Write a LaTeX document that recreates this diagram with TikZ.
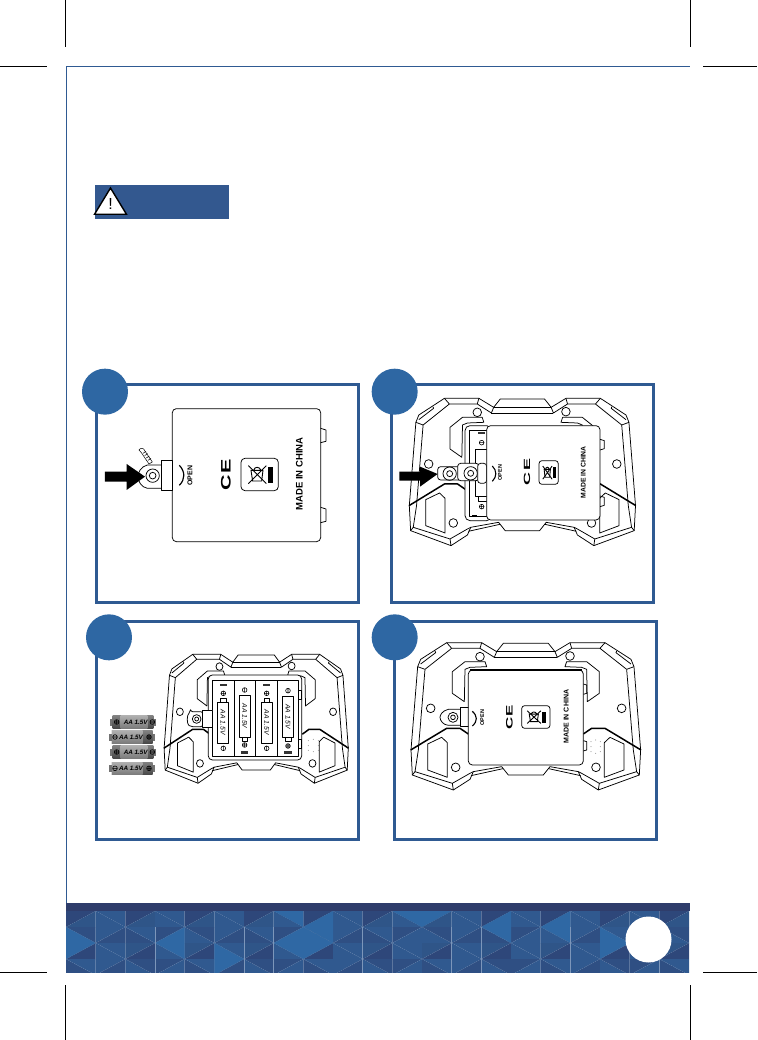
\documentclass[tikz,border=0pt]{standalone}
\usepackage{fontspec}
\setmainfont{Liberation Sans}
\definecolor{frameblue}{HTML}{2F5A92}
\definecolor{discblue}{HTML}{2E67A3}
\definecolor{banner}{HTML}{33588F}
\definecolor{strip}{HTML}{2F3D6B}
\definecolor{mos0}{HTML}{2E477A}
\definecolor{mos1}{HTML}{2F4F83}
\definecolor{mos2}{HTML}{2F5588}
\definecolor{mos3}{HTML}{30598F}
\definecolor{mosb}{HTML}{2F68A4}
\definecolor{mosl}{HTML}{6583AE}
\tikzset{
  panelframe/.style={draw=frameblue,line width=3pt},
  disc/.style={fill=discblue},
  crop/.style={draw=black,line width=.6pt},
  ink/.style={draw=black,line width=.75pt,line join=round},
  heavy/.style={draw=black,line width=1.5pt,line join=round},
  lab/.style={font=\bfseries\fontsize{#1}{#1}\selectfont,rotate=90,inner sep=0pt},
  batlab/.style={font=\bfseries\itshape\fontsize{6.3}{7}\selectfont,inner sep=0pt},
  slotlab/.style={font=\itshape\fontsize{6.8}{7}\selectfont,rotate=-90,inner sep=0pt},
  zoomgrid/.style={x=0.3333pt,y=-0.3333pt}
}
\newcommand{\halfpad}{%
  \draw[ink] (158,170)--(180,178)--(260,115)--(245,98) (260,115)--(345,115)--(350,98) (345,115)--(388,142)--(395,125);
  \draw[ink] (388,142)--(482.5,142) (395,125)--(482.5,125);
  \draw[ink] (167,162)--(212,128)--(210,123);
  \draw[ink] (180,178)--(160,420)--(150,485)--(142,495) (150,485)--(262,520)--(265,540) (262,520)--(315,490)--(325,485);
  \draw[ink] (318,497)--(414,476);
  \draw[ink] (298,275)--(262,250)--(262,185)--(300,155)--(360,155)--(365,170)--(315,172)--(300,178)--cycle;
  \draw[ink] (188,402)--(230,382)--(247,398)--(247,502)--(188,480)--cycle;
  \draw[heavy] (137,420)--(245,355)--(285,355)--(310,372);
}
\newcommand{\gamepad}{%
  \path[ink,fill=white] (138,420)--(158,170)--(167,148)--(245,98)--(350,98)--(395,125)--(415,100)--(550,100)--(570,125)--(615,98)--(720,98)--(798,148)--(807,170)--(827,420)--(823,495)--(700,540)--(650,508)--(640,485)--(555,470)--(535,495)--(430,495)--(410,470)--(325,485)--(315,508)--(265,540)--(142,495)--cycle;
  \halfpad
  \begin{scope}[shift={(965,0)},xscale=-1]
    \halfpad
  \end{scope}
  \foreach \hx/\hy in {197/295,770/295,345/140,615/138,272/472,693/472}
    \draw[ink,fill=white] (\hx,\hy) circle[radius=13];
}
\newcommand{\speaker}{%
  \foreach \hx/\hy in {678/395,692/390,706/395,678/410,706/410,678/425,692/430,706/425}
    \fill[black!55] (\hx,\hy) circle[radius=1.4];
}
\newcommand{\recyc}[5]{%
  \begin{scope}[shift={(#1,#2)},xscale=#3/112,yscale=#4/97]
    \draw[ink,rounded corners=#5pt,fill=white] (0,0) rectangle (112,97);
    \fill[black] (80,25) rectangle (97,73);
    \draw[draw=black,line width=.9pt] (30,36)--(66,36)--(62,68)--(35,68)--cycle (38,36)..controls (40,24) and (56,24)..(60,36);
    \draw[draw=black,line width=.9pt] (22,22)--(76,76) (22,76)--(76,22);
  \end{scope}}
\newcommand{\polplus}[2]{\draw[ink,line width=.6pt] (#1,#2) circle[radius=7] (#1-7,#2)--(#1+7,#2) (#1,#2-7)--(#1,#2+7);}
\newcommand{\polminus}[2]{\draw[ink,line width=.6pt] (#1,#2) circle[radius=7] (#1,#2-7)--(#1,#2+7);}
\newcommand{\hpolplus}[2]{\draw[ink,line width=.6pt] (#1,#2) circle[radius=7] (#1-7,#2)--(#1+7,#2) (#1,#2-7)--(#1,#2+7);}
\newcommand{\hpolminus}[2]{\draw[ink,line width=.6pt] (#1,#2) circle[radius=7] (#1-7,#2)--(#1+7,#2);}
\newcommand{\spring}[2]{\fill[black!80] (#1-11,#2-4) rectangle (#1+11,#2+3);}
\newcommand{\battery}[4]{% x0 y0 body-start body-end
  \fill[black!55] (#1,#2+8) rectangle (#1+138,#2+29);
  \shade[top color=black!50,middle color=black!20,bottom color=black!72] (#1+8,#2) rectangle (#1+130,#2+37);
  \shade[top color=black!32,middle color=black!4,bottom color=black!52] (#1+#3,#2) rectangle (#1+#4,#2+37);
}
\begin{document}
\begin{tikzpicture}[x=1pt,y=-1pt]
\useasboundingbox (0,0) rectangle (757,1040);
\fill[white] (0,0) rectangle (757,1040);
% crop marks
\draw[crop] (65,0)--(65,47) (690,0)--(690,47) (0,66)--(47,66) (703,66)--(757,66)
  (0,972)--(47,972) (703,972)--(757,972) (65,985)--(65,1040) (690,985)--(690,1040);
% page rule
\draw[draw=frameblue,line width=.8pt] (66,905)--(66,66)--(690,66);
% warning banner
\fill[banner] (95,185) rectangle (229,219);
\draw[draw=black,line width=1.4pt,fill=white,line join=miter] (110.5,188)--(126.5,214.3)--(94.5,214.3)--cycle;
\node[font=\fontsize{16}{16}\selectfont,inner sep=0pt] (warnmark) at (110.5,204) {!};
% footer
\fill[strip] (66,903) rectangle (690,911);
\begin{scope}[shift={(66,911)},x=29.667pt,y=-16pt]
  \clip (0,0) rectangle (21,3.82);
  \foreach \i in {0,...,20}{\foreach \j in {0,...,3}{
    \pgfmathtruncatemacro\ka{mod(\i*\i*3+\j*7+\i*\j*5,4)}
    \pgfmathtruncatemacro\kb{mod(\i*\i*5+\j*3+\i*\j*7+2,4)}
    \pgfmathtruncatemacro\parity{mod(\i+\j,2)}
    \ifnum\parity=1
      \fill[mos\ka] (\i,\j)--(\i+1,\j+1)--(\i,\j+1)--cycle;
      \fill[mos\kb] (\i,\j)--(\i+1,\j+1)--(\i+1,\j)--cycle;
    \else
      \fill[mos\ka] (\i,\j+1)--(\i+1,\j)--(\i,\j)--cycle;
      \fill[mos\kb] (\i,\j+1)--(\i+1,\j)--(\i+1,\j+1)--cycle;
    \fi
  }}
  \foreach \a/\b/\c/\d/\e/\f in {0/1/1/2/0/3,3/2/4/1/4/3,5/2/6/3/5/4,7/2/8/1/9/2,7/2/9/2/8/3,8/1/9/0/9/2,7/0/8/0/8/1,11/0/13/0/12/1,14/1/15/0/15/2,16/1/17/0/17/2,18/1/19/2/18/3}
    \fill[mosb] (\a,\b)--(\c,\d)--(\e,\f)--cycle;
  \foreach \i in {0,...,20}{\foreach \j in {1,...,3}{
    \pgfmathtruncatemacro\parity{mod(\i+\j,2)}
    \ifnum\parity=1
      \draw[draw=mosl,line width=.3pt,densely dotted] (\i,\j)--(\i+1,\j+1);
    \else
      \draw[draw=mosl,line width=.3pt,densely dotted] (\i,\j+1)--(\i+1,\j);
    \fi
  }}
  \foreach \i in {3,6,7,10,13,14,17,20}
    \draw[draw=mosl!85!white,line width=.4pt] (\i,1)--(\i,4);
\end{scope}
\fill[white] (648.5,939.5) circle[radius=23];
% ---------- panel 1
\begin{scope}[shift={(70,360)},zoomgrid]
  \draw[panelframe] (79,74) rectangle (866,728);
  \fill[disc] (105,95) circle[radius=69];
  \draw[ink] (752,205)--(768,210)--(768,244)--(752,248) (752,442)--(768,447)--(768,484)--(752,488);
  \draw[ink,rounded corners=4pt] (307,146) rectangle (752,545);
  \draw[ink,fill=white] (275,315)--(232,315)..controls (212,320) and (204,338)..(204,350)..controls (204,365) and (215,382)..(232,385)--(275,385)--cycle;
  \draw[ink] (248,347) circle[radius=20] (248,347) circle[radius=10];
  \draw[ink,fill=white] (275,302) rectangle (307,390);
  \draw[draw=black,line width=.5pt,fill=white] (207,270)..controls (212,262) and (222,264)..(224,272)--(247,306)--(237,312)--(214,278)--cycle;
  \draw[draw=black,line width=.5pt] (219,280)--(228,274) (224,287)--(233,281) (229,294)--(238,288) (234,301)--(243,295);
  \fill[black] (105,335)--(170,335)--(170,312)--(225,350)--(170,390)--(170,365)--(105,365)--cycle;
  \draw[draw=black,line width=1.2pt] (328,316)..controls (346,335) and (346,358)..(328,376);
  \node[lab=7] (open1) at (360,347) {OPEN};
  \node[font=\bfseries\fontsize{21.5}{22}\selectfont,rotate=90,inner sep=0pt,yscale=.64] (ce1) at (468,344) {C\hspace{1pt}E};
  \recyc{513}{295}{112}{97}{4}
  \node[lab=9.5] (made1) at (688,342) {MADE IN CHINA};
\end{scope}
% ---------- panel 2
\begin{scope}[shift={(365,360)},zoomgrid]
  \draw[panelframe] (79,74) rectangle (866,728);
  \begin{scope}[shift={(-3,17)},xscale=.985]
    \gamepad
  \end{scope}
  \draw[ink,fill=white,rounded corners=5pt] (300,197) rectangle (380,482);
  \draw[ink] (312,210)--(312,470)--(370,470) (312,210)--(370,210);
  \spring{350}{220}
  \hpolminus{350}{248}
  \draw[ink] (330,268) rectangle (380,408);
  \draw[ink] (340,408) rectangle (380,425);
  \hpolplus{350}{440}
  \fill[black] (320,466) rectangle (335,470);
  \draw[ink,fill=white,rounded corners=3pt] (218,320) rectangle (290,360);
  \draw[ink] (254,341) circle[radius=20] (254,341) circle[radius=9];
  \draw[ink,fill=white,rounded corners=3pt] (278,310) rectangle (342,362);
  \draw[ink] (317,340) circle[radius=20] (317,340) circle[radius=9];
  \draw[ink,fill=white,rounded corners=3pt] (338,310) rectangle (365,370);
  \draw[ink] (705,238)--(718,242)--(718,266)--(705,270) (705,408)--(718,412)--(718,436)--(705,440);
  \draw[ink,fill=white,rounded corners=4pt] (365,197) rectangle (705,480);
  \draw[draw=black,line width=1.1pt] (382,318)..controls (396,332) and (396,350)..(382,364);
  \node[lab=5.5] (open2) at (405,338) {OPEN};
  \node[font=\bfseries\fontsize{18}{18}\selectfont,rotate=90,inner sep=0pt,yscale=.5] (ce2) at (486,337) {C\hspace{2pt}E};
  \recyc{522}{302}{58}{71}{3}
  \node[lab=6.8] (made2) at (655,337) {MADE IN CHINA};
  \fill[black] (103,335)--(165,335)--(165,320)--(218,342)--(165,380)--(165,362)--(103,362)--cycle;
  \fill[disc] (89,95) circle[radius=69];
\end{scope}
% ---------- panel 3
\begin{scope}[shift={(70,610)},zoomgrid]
  \draw[panelframe] (79,34) rectangle (866,688);
  \begin{scope}[shift={(171.7,47.25)},xscale=.802,yscale=.875]
    \gamepad
  \end{scope}
  \draw[ink,fill=white,rounded corners=4pt] (415,195) rectangle (695,450);
  \draw[ink] (428,212) rectangle (685,440);
  \draw[ink] (492,212)--(492,440) (556,212)--(556,440) (622,212)--(622,440);
  \draw[ink] (685,240) rectangle (695,268) (685,388) rectangle (695,415);
  % slots
  \draw[ink] (442,278) rectangle (475,400) (452,265) rectangle (468,278);
  \draw[ink] (508,255) rectangle (541,382) (516,382) rectangle (532,395);
  \draw[ink] (574,278) rectangle (607,400) (582,265) rectangle (598,278);
  \draw[ink] (638,258) rectangle (670,382) (647,382) rectangle (663,395);
  \polplus{460}{250} \polminus{460}{415}
  \polminus{524}{240} \polplus{524}{405}
  \polplus{590}{250} \polminus{590}{415}
  \polminus{654}{242} \polplus{654}{408}
  \spring{460}{225} \spring{524}{428} \spring{590}{225} \spring{654}{428}
  \node[slotlab] (slot1) at (459,337) {AA 1.5V};
  \node[slotlab] (slot2) at (524,318) {AA 1.5V};
  \node[slotlab] (slot3) at (590,337) {AA 1.5V};
  \node[slotlab] (slot4) at (654,320) {AA 1.5V};
  \draw[ink,fill=white,rounded corners=2pt] (362,305)--(398,305)--(398,350)--(362,350)..controls (350,342) and (350,315)..(362,305)--cycle;
  \draw[ink] (380,327) circle[radius=13] (380,327) circle[radius=6];
  \draw[ink,fill=white] (398,300) rectangle (428,352);
  \foreach \hx/\hy in {715/392,730/388,745/392,715/407,745/407,715/421,730/425,745/421}
    \fill[black!55] (\hx,\hy) circle[radius=1.4];
  % loose batteries
  \battery{120}{318}{32}{112}
  \battery{118}{363}{8}{100}
  \battery{120}{408}{32}{112}
  \battery{118}{457}{8}{100}
  \hpolplus{140}{336} \hpolminus{247}{336}
  \hpolminus{135}{381} \hpolplus{237}{381}
  \hpolplus{140}{426} \hpolminus{247}{426}
  \hpolminus{135}{475} \hpolplus{237}{475}
  \node[batlab] (bat1) at (197,336) {AA 1.5V};
  \node[batlab] (bat2) at (183,381) {AA 1.5V};
  \node[batlab] (bat3) at (197,426) {AA 1.5V};
  \node[batlab] (bat4) at (183,475) {AA 1.5V};
  \fill[disc] (117,82) circle[radius=69];
\end{scope}
% ---------- panel 4
\begin{scope}[shift={(365,610)},zoomgrid]
  \draw[panelframe] (88,34) rectangle (874,688);
  \gamepad
  \speaker
  \draw[ink,fill=white] (290,298)--(250,298)..controls (232,302) and (225,315)..(225,322)..controls (225,332) and (235,345)..(250,346)--(290,346)--cycle;
  \draw[ink] (264,322) circle[radius=15] (264,322) circle[radius=7];
  \draw[ink,fill=white] (287,292) rectangle (312,350);
  \draw[ink] (655,222)--(665,225)--(665,250)--(655,253) (655,392)--(665,395)--(665,420)--(655,423);
  \draw[ink,fill=white,rounded corners=4pt] (310,180) rectangle (655,465);
  \draw[heavy] (314,180)--(652,180);
  \draw[draw=black,line width=1.1pt] (322,304)..controls (338,318) and (338,334)..(322,348);
  \node[lab=5.5] (open4) at (352,323) {OPEN};
  \node[font=\bfseries\fontsize{17}{17}\selectfont,rotate=90,inner sep=0pt,yscale=.55] (ce4) at (433,322) {C\hspace{1pt}E};
  \recyc{470}{287}{85}{68}{3}
  \node[lab=7] (made4) at (604,320) {MADE IN CHINA};
  \fill[disc] (89,82) circle[radius=69];
\end{scope}
\end{tikzpicture}
\end{document}
